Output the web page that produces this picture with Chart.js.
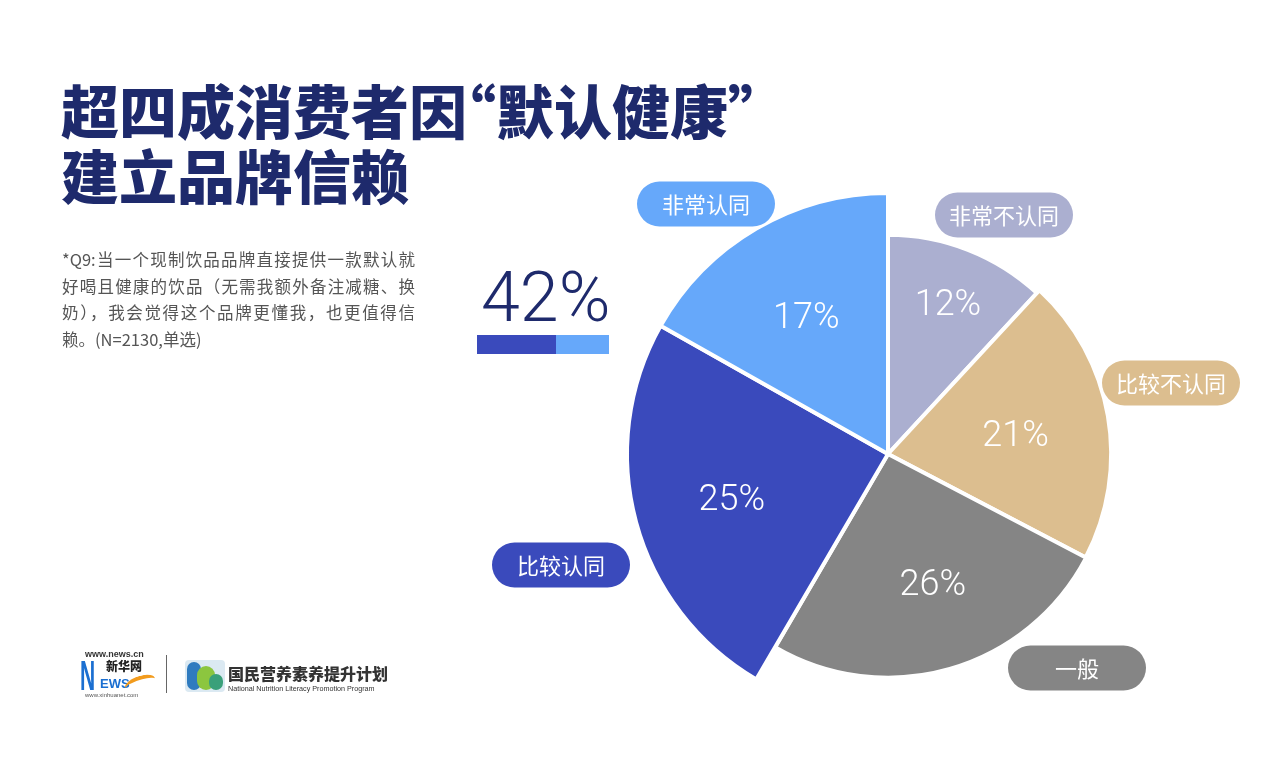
<!DOCTYPE html>
<html lang="zh-CN">
<head>
<meta charset="utf-8">
<title>超四成消费者因“默认健康”建立品牌信赖</title>
<script src="https://cdn.jsdelivr.net/npm/chart.js@4.4.1/dist/chart.umd.min.js"></script>
<style>
html, body { margin: 0; padding: 0; background: #fff; }
#page { position: relative; width: 1269px; height: 777px; overflow: hidden; font-family: "Noto Sans CJK SC", "Noto Sans", sans-serif; }
#chartBox { position: absolute; left: 0; top: 0; width: 1269px; height: 777px; }
.title { position: absolute; left: 61px; top: 77px; font-size: 58px; line-height: 65px; font-weight: 900; color: #1e2a6c; white-space: nowrap; }
.title .q { font-feature-settings: "halt"; }
.note { position: absolute; left: 62px; top: 246px; width: 353px; font-size: 16.5px; line-height: 26.5px; color: #555; }
.note .j { text-align: justify; text-align-last: justify; }
.big { position: absolute; left: 481px; top: 262px; font-family: Roboto, sans-serif; font-weight: 300; font-size: 70px; line-height: 70px; color: #1e2a6c; }
.bar { position: absolute; top: 335px; height: 19px; }
.logo { position: absolute; white-space: nowrap; }
</style>
</head>
<body>
<div id="page">
  <div id="chartBox"><canvas id="roseChart"></canvas></div>

  <div class="title">超四成消费者因<span class="q">“</span>默认健康<span class="q">”</span><br>建立品牌信赖</div>

  <div class="note">
    <div class="j">*Q9:当一个现制饮品品牌直接提供一款默认就</div>
    <div class="j">好喝且健康的饮品（无需我额外备注减糖、换</div>
    <div class="j">奶），我会觉得这个品牌更懂我，也更值得信</div>
    <div>赖。(N=2130,单选)</div>
  </div>

  <div class="big" id="agreeTotal"></div>
  <div class="bar" id="barStrong"></div>
  <div class="bar" id="barSome"></div>

  <!-- logos, rough text version -->
  <div class="logo" style="left:85px;top:649px;font:bold 9px 'Liberation Sans';color:#333;">www.news.cn</div>
  <div class="logo" style="left:80px;top:652px;font:bold 42px 'Liberation Sans';color:#1b6fd1;transform:scaleX(0.5);transform-origin:left top;">N</div>
  <div class="logo" style="left:106px;top:657px;font:900 12px 'Noto Sans CJK SC';color:#222;">新华网</div>
  <div class="logo" style="left:100px;top:676px;font:bold 13px 'Liberation Sans';color:#1b6fd1;">EWS</div>
  <div class="logo" style="left:124px;top:676px;width:32px;height:12px;border-top:4px solid #f29b1d;border-radius:60% 40% 0 0;transform:rotate(-14deg);"></div>
  <div class="logo" style="left:85px;top:692px;font:6px 'Liberation Sans';color:#555;">www.xinhuanet.com</div>
  <div class="logo" style="left:166px;top:655px;width:1px;height:38px;background:#666;"></div>
  <div class="logo" style="left:185px;top:660px;width:40px;height:32px;border-radius:4px;background:#dbe9f2;overflow:hidden;">
    <div style="position:absolute;left:2px;top:2px;width:14px;height:28px;border-radius:7px;background:#2f7bbf;"></div>
    <div style="position:absolute;left:12px;top:6px;width:18px;height:24px;border-radius:9px;background:#8cc63f;"></div>
    <div style="position:absolute;left:24px;top:14px;width:14px;height:16px;border-radius:7px;background:#3aa07a;"></div>
  </div>
  <div class="logo" style="left:228px;top:661px;font:900 16px 'Noto Sans CJK SC';color:#333;">国民营养素养提升计划</div>
  <div class="logo" style="left:228px;top:684px;font:7.2px 'Liberation Sans';color:#333;">National Nutrition Literacy Promotion Program</div>
</div>

<script>
const categories = ['非常不认同', '比较不认同', '一般', '比较认同', '非常认同'];
const shares = [12, 21, 26, 25, 17];
const sliceColors = ['#abafd0', '#dcbe8f', '#858585', '#3a4abc', '#66a8fa'];

// slices don't share one radius in the original, scale each one
const radiusScale = [0.84, 0.855, 0.857, 1, 1];
const labelDepth = [0.75, 0.58, 0.6, 0.62, 0.62];
const labelTurn = [0, 0, -0.06, 0, 0];
// pill label centers, relative to pie center
const pillOffsets = [[116, -239], [283, -71], [189, 214], [-327, 111], [-182, -250]];

// 42% box: "比较认同" + "非常认同"
const strong = shares[3], some = shares[4];
document.getElementById('agreeTotal').textContent = (strong + some) + '%';
const barWidth = 132;
const b1 = document.getElementById('barStrong');
const b2 = document.getElementById('barSome');
b1.style.left = '477px';
b1.style.width = (barWidth * strong / (strong + some)) + 'px';
b1.style.background = sliceColors[3];
b2.style.left = (477 + barWidth * strong / (strong + some)) + 'px';
b2.style.width = (barWidth * some / (strong + some)) + 'px';
b2.style.background = sliceColors[4];

const roseSlices = {
    id: 'roseSlices',
    beforeDatasetsDraw(chart) {
        const meta = chart.getDatasetMeta(0);
        const base = meta.controller.outerRadius;
        meta.data.forEach((arc, i) => {
            arc.outerRadius = base * radiusScale[i];
        });
    },
    afterDatasetsDraw(chart) {
        const ctx = chart.ctx;
        const meta = chart.getDatasetMeta(0);
        ctx.save();
        ctx.textAlign = 'center';
        ctx.textBaseline = 'middle';
        meta.data.forEach((arc, i) => {
            const mid = (arc.startAngle + arc.endAngle) / 2 + labelTurn[i];
            const r = arc.outerRadius * labelDepth[i];
            ctx.fillStyle = '#fff';
            ctx.font = '300 36px Roboto';
            ctx.fillText(shares[i] + '%', arc.x + Math.cos(mid) * r, arc.y + Math.sin(mid) * r + 5);

            // pill with category name
            const cx = arc.x + pillOffsets[i][0];
            const cy = arc.y + pillOffsets[i][1];
            const w = 138, h = 45;
            ctx.fillStyle = sliceColors[i];
            ctx.beginPath();
            ctx.roundRect(cx - w / 2, cy - h / 2, w, h, h / 2);
            ctx.fill();
            ctx.fillStyle = '#fff';
            ctx.font = '400 22px "Noto Sans CJK SC"';
            ctx.fillText(categories[i], cx, cy + 1);
        });
        ctx.restore();
    }
};

new Chart(document.getElementById('roseChart'), {
    type: 'pie',
    data: {
        labels: categories,
        datasets: [{
            data: shares,
            backgroundColor: sliceColors,
            borderColor: '#fff',
            borderWidth: 4
        }]
    },
    options: {
        responsive: true,
        maintainAspectRatio: false,
        animation: false,
        events: [],
        radius: 261,
        layout: {
            padding: { left: 618, right: 111, top: 184, bottom: 53 }
        },
        plugins: {
            legend: { display: false },
            tooltip: { enabled: false }
        }
    },
    plugins: [roseSlices]
});
</script>
</body>
</html>
